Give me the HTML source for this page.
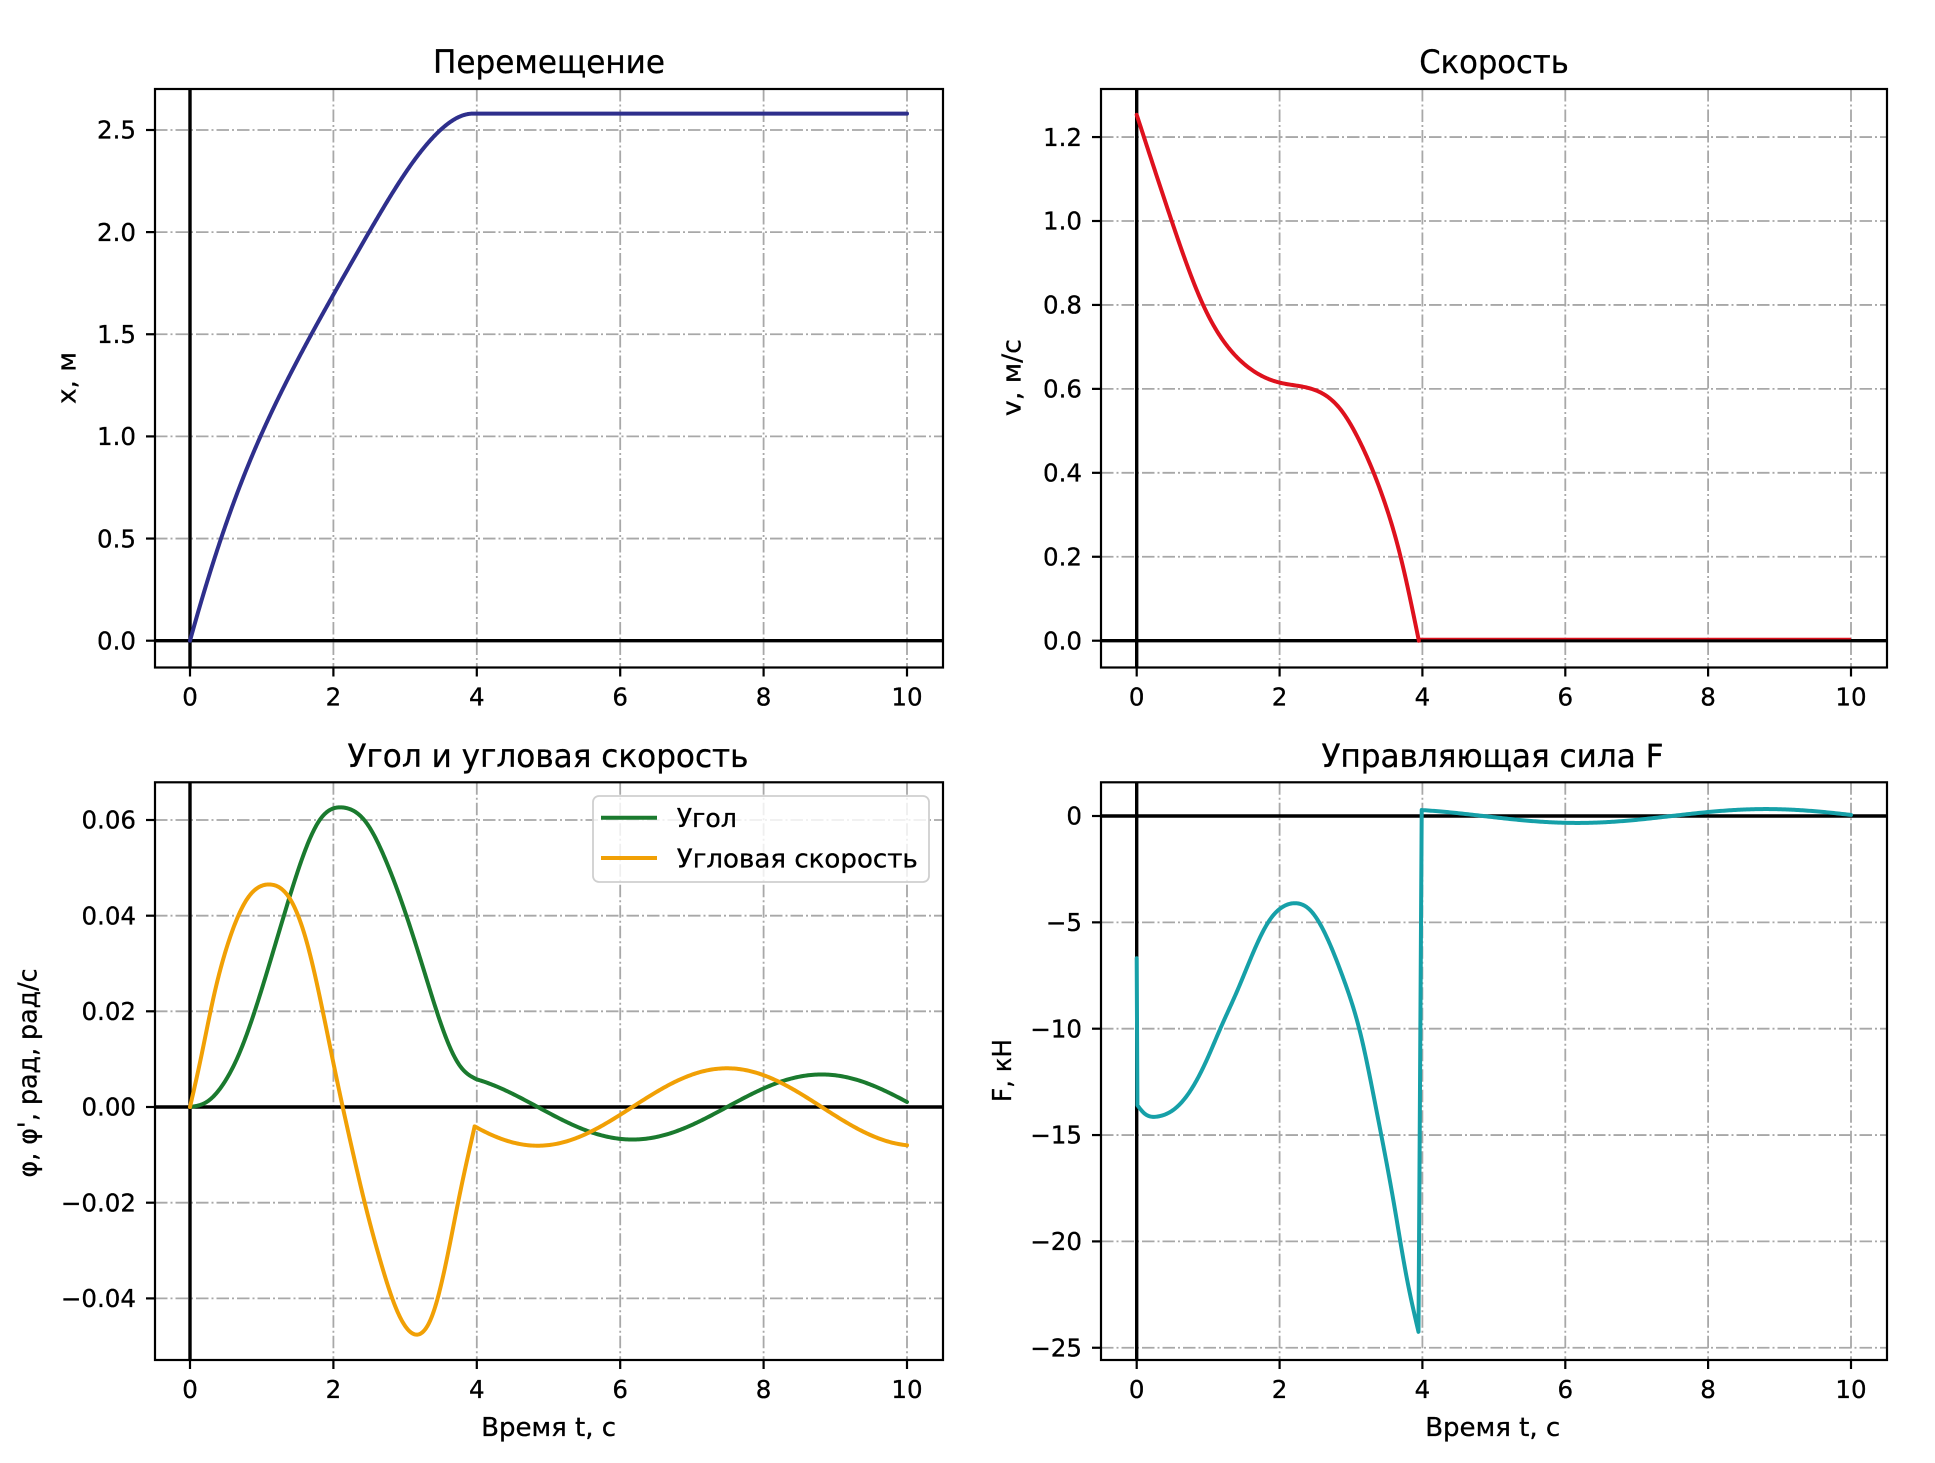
<!DOCTYPE html>
<html><head><meta charset="utf-8"><style>
html,body{margin:0;padding:0;background:#fff;}
svg{display:block;}
text{font-family:"DejaVu Sans","Liberation Sans",sans-serif;fill:#000;stroke:#000;stroke-width:0.3;}
.g{stroke:#a8a8a8;stroke-width:1.8;stroke-dasharray:12.5 3 2 3;fill:none;}
.z{stroke:#000;stroke-width:3.4;}
.tk{stroke:#000;stroke-width:2.2;}
.sp{fill:none;stroke:#000;stroke-width:2.2;}
.d{fill:none;stroke-width:4;stroke-linejoin:round;stroke-linecap:round;}
.tl{font-size:24.5px;}
.yl{font-size:26px;}
.tt{font-size:32px;}
</style></head><body>
<svg width="1935" height="1463" viewBox="0 0 1935 1463" xmlns="http://www.w3.org/2000/svg">
<rect width="1935" height="1463" fill="#fff"/>

<g class="g">
<line x1="190" y1="89" x2="190" y2="667.5"/><line x1="333.4" y1="89" x2="333.4" y2="667.5"/><line x1="476.8" y1="89" x2="476.8" y2="667.5"/><line x1="620.2" y1="89" x2="620.2" y2="667.5"/><line x1="763.6" y1="89" x2="763.6" y2="667.5"/><line x1="907" y1="89" x2="907" y2="667.5"/>
<line x1="155" y1="130" x2="943" y2="130"/><line x1="155" y1="232.1" x2="943" y2="232.1"/><line x1="155" y1="334.25" x2="943" y2="334.25"/><line x1="155" y1="436.4" x2="943" y2="436.4"/><line x1="155" y1="538.55" x2="943" y2="538.55"/>
<line x1="1136.7" y1="89" x2="1136.7" y2="667.5"/><line x1="1279.6" y1="89" x2="1279.6" y2="667.5"/><line x1="1422.4" y1="89" x2="1422.4" y2="667.5"/><line x1="1565.3" y1="89" x2="1565.3" y2="667.5"/><line x1="1708.1" y1="89" x2="1708.1" y2="667.5"/><line x1="1851" y1="89" x2="1851" y2="667.5"/>
<line x1="1101" y1="137.06" x2="1887" y2="137.06"/><line x1="1101" y1="221" x2="1887" y2="221"/><line x1="1101" y1="304.94" x2="1887" y2="304.94"/><line x1="1101" y1="388.88" x2="1887" y2="388.88"/><line x1="1101" y1="472.82" x2="1887" y2="472.82"/><line x1="1101" y1="556.76" x2="1887" y2="556.76"/>
<line x1="190" y1="782.3" x2="190" y2="1360"/><line x1="333.4" y1="782.3" x2="333.4" y2="1360"/><line x1="476.8" y1="782.3" x2="476.8" y2="1360"/><line x1="620.2" y1="782.3" x2="620.2" y2="1360"/><line x1="763.6" y1="782.3" x2="763.6" y2="1360"/><line x1="907" y1="782.3" x2="907" y2="1360"/>
<line x1="155" y1="820" x2="943" y2="820"/><line x1="155" y1="915.7" x2="943" y2="915.7"/><line x1="155" y1="1011.3" x2="943" y2="1011.3"/><line x1="155" y1="1202.7" x2="943" y2="1202.7"/><line x1="155" y1="1298.4" x2="943" y2="1298.4"/>
<line x1="1136.7" y1="782.3" x2="1136.7" y2="1360"/><line x1="1279.6" y1="782.3" x2="1279.6" y2="1360"/><line x1="1422.4" y1="782.3" x2="1422.4" y2="1360"/><line x1="1565.3" y1="782.3" x2="1565.3" y2="1360"/><line x1="1708.1" y1="782.3" x2="1708.1" y2="1360"/><line x1="1851" y1="782.3" x2="1851" y2="1360"/>
<line x1="1101" y1="922.35" x2="1887" y2="922.35"/><line x1="1101" y1="1028.7" x2="1887" y2="1028.7"/><line x1="1101" y1="1135.05" x2="1887" y2="1135.05"/><line x1="1101" y1="1241.4" x2="1887" y2="1241.4"/><line x1="1101" y1="1347.75" x2="1887" y2="1347.75"/>
</g>

<g class="z">
<line x1="155" y1="640.7" x2="943" y2="640.7"/><line x1="190" y1="89" x2="190" y2="667.5"/>
<line x1="1101" y1="640.7" x2="1887" y2="640.7"/><line x1="1136.7" y1="89" x2="1136.7" y2="667.5"/>
<line x1="155" y1="1107" x2="943" y2="1107"/><line x1="190" y1="782.3" x2="190" y2="1360"/>
<line x1="1101" y1="816" x2="1887" y2="816"/><line x1="1136.7" y1="782.3" x2="1136.7" y2="1360"/>
</g>

<g transform="matrix(71.7,0,0,-204.3,190,640.7)">
<path id="pX" class="d" vector-effect="non-scaling-stroke" stroke="#2e2f8c" d="M0,0 L0.478,0.542 L0.826,0.870 L1,1.016 L1.348,1.279 L1.696,1.515 L2,1.708 L2.39,1.946 L2.65,2.1 L3,2.293 L3.26,2.414 L3.52,2.508 L3.7,2.553 L3.95,2.58 L10,2.58"/>
</g>
<line x1="1418.8" y1="638.6" x2="1851" y2="638.6" stroke="#de111d" stroke-width="1.6"/>
<g transform="matrix(71.43,0,0,-419.7,1136.7,640.7)">
<path id="pV" class="d" vector-effect="non-scaling-stroke" stroke="#de111d" d="M0,1.253 L0.49,1.0 L0.93,0.8 L1.5,0.66 L2,0.615 L2.5,0.597 L2.85,0.552 L3.15,0.465 L3.45,0.34 L3.7,0.196 L3.95,0"/>
</g>
<g transform="matrix(71.7,0,0,-4785,190,1107)">
<path id="pG" class="d" vector-effect="non-scaling-stroke" stroke="#1a7a2e" d="M0,0 L0.232,0.00105 L0.464,0.0048 L0.696,0.0115 L0.88,0.019 L1.114,0.0302 L1.346,0.0414 L1.578,0.0525 L1.81,0.0603 L2.13,0.0626 L2.46,0.0594 L2.74,0.0512 L3.02,0.0399 L3.29,0.0272 L3.57,0.0145 L3.76,0.0085 L3.9,0.0063 L4,0.00577 L4.5,0.00275 L5,-0.00121 L5.5,-0.00475 L6,-0.00666 L6.5,-0.00628 L7,-0.00374 L7.5,0.00008 L8,0.00388 L8.5,0.00634 L9,0.00662 L9.5,0.0046 L10,0.00105"/>
<path id="pO" class="d" vector-effect="non-scaling-stroke" stroke="#f1a005" d="M0,0 L0.139,0.0093 L0.325,0.0227 L0.557,0.0354 L0.789,0.0433 L1.114,0.0465 L1.39,0.0436 L1.624,0.0347 L1.856,0.0197 L2.04,0.0063 L2.13,0 L2.27,-0.0094 L2.46,-0.0214 L2.65,-0.0319 L2.88,-0.0423 L3.13,-0.0475 L3.39,-0.0431 L3.57,-0.0326 L3.76,-0.0184 L3.9,-0.0087 L3.97,-0.00405 L4.5,-0.0074 L5,-0.00796 L5.5,-0.00579 L6,-0.00163 L6.5,0.0031 L7,0.00676 L7.5,0.00809 L8,0.00664 L8.5,0.00291 L9,-0.00184 L9.5,-0.00596 L10,-0.00799"/>
</g>
<g transform="matrix(71.43,0,0,-21.27,1136.7,816)">
<path id="pF" class="d" vector-effect="non-scaling-stroke" stroke="#16a0a8" d="M0,-6.69 L0.01,-13.6 L0.1,-13.96 L0.29,-14.13 L0.52,-13.8 L0.755,-12.9 L0.99,-11.4 L1.17,-10 L1.41,-8.2 L1.64,-6.35 L1.87,-4.85 L2.01,-4.35 L2.22,-4.1 L2.43,-4.43 L2.66,-5.69 L2.9,-7.7 L3.13,-10.2 L3.36,-13.9 L3.6,-18.2 L3.78,-21.7 L3.945,-24.25 L3.99,0.28 L4,0.277 L4.5,0.132 L5,-0.058 L5.5,-0.228 L6,-0.32 L6.5,-0.301 L7,-0.18 L7.5,0.004 L8,0.186 L8.5,0.304 L9,0.318 L9.5,0.221 L10,0.05"/>
</g>

<rect x="593" y="796" width="336" height="86" rx="6" ry="6" fill="#fff" fill-opacity="0.82" stroke="#cfcfcf" stroke-width="1.8"/>
<line x1="601" y1="817.7" x2="657" y2="817.7" stroke="#1a7a2e" stroke-width="4"/>
<line x1="601" y1="858" x2="657" y2="858" stroke="#f1a005" stroke-width="4"/>
<text x="676.8" y="827" font-size="25.5" textLength="60" lengthAdjust="spacingAndGlyphs">Угол</text>
<text x="676.8" y="867.3" font-size="25.5" textLength="241" lengthAdjust="spacingAndGlyphs">Угловая скорость</text>

<rect class="sp" x="155" y="89" width="788" height="578.5"/>
<rect class="sp" x="1101" y="89" width="786" height="578.5"/>
<rect class="sp" x="155" y="782.3" width="788" height="577.7"/>
<rect class="sp" x="1101" y="782.3" width="786" height="577.7"/>

<g class="tk">
<line x1="146" y1="640.7" x2="155" y2="640.7"/><line x1="146" y1="538.55" x2="155" y2="538.55"/><line x1="146" y1="436.4" x2="155" y2="436.4"/><line x1="146" y1="334.25" x2="155" y2="334.25"/><line x1="146" y1="232.1" x2="155" y2="232.1"/><line x1="146" y1="130" x2="155" y2="130"/>
<line x1="190" y1="667.5" x2="190" y2="676.5"/><line x1="333.4" y1="667.5" x2="333.4" y2="676.5"/><line x1="476.8" y1="667.5" x2="476.8" y2="676.5"/><line x1="620.2" y1="667.5" x2="620.2" y2="676.5"/><line x1="763.6" y1="667.5" x2="763.6" y2="676.5"/><line x1="907" y1="667.5" x2="907" y2="676.5"/>
<line x1="1092" y1="640.7" x2="1101" y2="640.7"/><line x1="1092" y1="556.76" x2="1101" y2="556.76"/><line x1="1092" y1="472.82" x2="1101" y2="472.82"/><line x1="1092" y1="388.88" x2="1101" y2="388.88"/><line x1="1092" y1="304.94" x2="1101" y2="304.94"/><line x1="1092" y1="221" x2="1101" y2="221"/><line x1="1092" y1="137.06" x2="1101" y2="137.06"/>
<line x1="1136.7" y1="667.5" x2="1136.7" y2="676.5"/><line x1="1279.6" y1="667.5" x2="1279.6" y2="676.5"/><line x1="1422.4" y1="667.5" x2="1422.4" y2="676.5"/><line x1="1565.3" y1="667.5" x2="1565.3" y2="676.5"/><line x1="1708.1" y1="667.5" x2="1708.1" y2="676.5"/><line x1="1851" y1="667.5" x2="1851" y2="676.5"/>
<line x1="146" y1="820" x2="155" y2="820"/><line x1="146" y1="915.7" x2="155" y2="915.7"/><line x1="146" y1="1011.3" x2="155" y2="1011.3"/><line x1="146" y1="1107" x2="155" y2="1107"/><line x1="146" y1="1202.7" x2="155" y2="1202.7"/><line x1="146" y1="1298.4" x2="155" y2="1298.4"/>
<line x1="190" y1="1360" x2="190" y2="1369"/><line x1="333.4" y1="1360" x2="333.4" y2="1369"/><line x1="476.8" y1="1360" x2="476.8" y2="1369"/><line x1="620.2" y1="1360" x2="620.2" y2="1369"/><line x1="763.6" y1="1360" x2="763.6" y2="1369"/><line x1="907" y1="1360" x2="907" y2="1369"/>
<line x1="1092" y1="816" x2="1101" y2="816"/><line x1="1092" y1="922.35" x2="1101" y2="922.35"/><line x1="1092" y1="1028.7" x2="1101" y2="1028.7"/><line x1="1092" y1="1135.05" x2="1101" y2="1135.05"/><line x1="1092" y1="1241.4" x2="1101" y2="1241.4"/><line x1="1092" y1="1347.75" x2="1101" y2="1347.75"/>
<line x1="1136.7" y1="1360" x2="1136.7" y2="1369"/><line x1="1279.6" y1="1360" x2="1279.6" y2="1369"/><line x1="1422.4" y1="1360" x2="1422.4" y2="1369"/><line x1="1565.3" y1="1360" x2="1565.3" y2="1369"/><line x1="1708.1" y1="1360" x2="1708.1" y2="1369"/><line x1="1851" y1="1360" x2="1851" y2="1369"/>
</g>

<g class="tl" text-anchor="end">
<text x="136" y="649.4">0.0</text><text x="136" y="547.3">0.5</text><text x="136" y="445.1">1.0</text><text x="136" y="343">1.5</text><text x="136" y="240.8">2.0</text><text x="136" y="138.7">2.5</text>
<text x="1082" y="649.4">0.0</text><text x="1082" y="565.5">0.2</text><text x="1082" y="481.5">0.4</text><text x="1082" y="397.6">0.6</text><text x="1082" y="313.6">0.8</text><text x="1082" y="229.7">1.0</text><text x="1082" y="145.8">1.2</text>
<text x="136" y="828.7">0.06</text><text x="136" y="924.4">0.04</text><text x="136" y="1020">0.02</text><text x="136" y="1115.7">0.00</text><text x="136" y="1211.4">−0.02</text><text x="136" y="1307.1">−0.04</text>
<text x="1082" y="824.7">0</text><text x="1082" y="931">−5</text><text x="1082" y="1037.4">−10</text><text x="1082" y="1143.7">−15</text><text x="1082" y="1250.1">−20</text><text x="1082" y="1356.4">−25</text>
</g>
<g class="tl" text-anchor="middle">
<text x="190" y="705.5">0</text><text x="333.4" y="705.5">2</text><text x="476.8" y="705.5">4</text><text x="620.2" y="705.5">6</text><text x="763.6" y="705.5">8</text><text x="907" y="705.5">10</text>
<text x="1136.7" y="705.5">0</text><text x="1279.6" y="705.5">2</text><text x="1422.4" y="705.5">4</text><text x="1565.3" y="705.5">6</text><text x="1708.1" y="705.5">8</text><text x="1851" y="705.5">10</text>
<text x="190" y="1398">0</text><text x="333.4" y="1398">2</text><text x="476.8" y="1398">4</text><text x="620.2" y="1398">6</text><text x="763.6" y="1398">8</text><text x="907" y="1398">10</text>
<text x="1136.7" y="1398">0</text><text x="1279.6" y="1398">2</text><text x="1422.4" y="1398">4</text><text x="1565.3" y="1398">6</text><text x="1708.1" y="1398">8</text><text x="1851" y="1398">10</text>
</g>

<g class="tt" text-anchor="middle">
<text x="549" y="73" textLength="232" lengthAdjust="spacingAndGlyphs">Перемещение</text>
<text x="1494" y="73" textLength="149.5" lengthAdjust="spacingAndGlyphs">Скорость</text>
<text x="548" y="767" textLength="401" lengthAdjust="spacingAndGlyphs">Угол и угловая скорость</text>
<text x="1492.5" y="767" textLength="342" lengthAdjust="spacingAndGlyphs">Управляющая сила F</text>
</g>

<g class="yl" text-anchor="middle">
<text transform="translate(75.5,378) rotate(-90)" textLength="52" lengthAdjust="spacingAndGlyphs">x, м</text>
<text transform="translate(1020.5,377.6) rotate(-90)" textLength="77" lengthAdjust="spacingAndGlyphs">v, м/с</text>
<text transform="translate(36.5,1073) rotate(-90)" textLength="209" lengthAdjust="spacingAndGlyphs">φ, φ', рад, рад/с</text>
<text transform="translate(1011,1070.5) rotate(-90)" textLength="63" lengthAdjust="spacingAndGlyphs">F, кН</text>
<text x="548.6" y="1436" textLength="135" lengthAdjust="spacingAndGlyphs">Время t, с</text>
<text x="1492.7" y="1436" textLength="135" lengthAdjust="spacingAndGlyphs">Время t, с</text>
</g>
</svg>
<script>
(function(){
function spline(P){
  var n=P.length,x=[],y=[],h=[],i;
  for(i=0;i<n;i++){x.push(P[i][0]);y.push(P[i][1]);}
  for(i=0;i<n-1;i++)h[i]=x[i+1]-x[i];
  var M=[];for(i=0;i<n;i++)M.push(0);
  var N=n-2,A=[],B=[],C=[],R=[];
  for(i=1;i<n-1;i++){A.push(h[i-1]);B.push(2*(h[i-1]+h[i]));C.push(h[i]);R.push(6*((y[i+1]-y[i])/h[i]-(y[i]-y[i-1])/h[i-1]));}
  for(i=1;i<N;i++){var w=A[i]/B[i-1];B[i]-=w*C[i-1];R[i]-=w*R[i-1];}
  var S=[];S[N-1]=R[N-1]/B[N-1];
  for(i=N-2;i>=0;i--)S[i]=(R[i]-C[i]*S[i+1])/B[i];
  for(i=0;i<N;i++)M[i+1]=S[i];
  return function(t){
    var i=0;while(i<n-2&&t>x[i+1])i++;
    var hh=h[i],a=(x[i+1]-t)/hh,b=(t-x[i])/hh;
    return a*y[i]+b*y[i+1]+((a*a*a-a)*M[i]+(b*b*b-b)*M[i+1])*hh*hh/6;
  };
}
function samp(f,a,b,n,arr){for(var i=0;i<=n;i++){var t=a+(b-a)*i/n;arr.push([t,f(t)]);}return arr;}
function D(arr){var s='';for(var i=0;i<arr.length;i++){s+=(i?'L':'M')+arr[i][0].toFixed(5)+','+arr[i][1].toFixed(6);}return s;}
var w=1.19;
function gF(t){return -0.0068*Math.sin(w*(t-4.85));}
function oF(t){return -0.0068*w*Math.cos(w*(t-4.85));}

var vP=[[0,1.253],[0.49,1.0],[0.93,0.8],[1.5,0.66],[2.0,0.615],[2.5,0.597],[2.85,0.552],[3.15,0.465],[3.45,0.34],[3.7,0.196],[3.95,0.0]];
var v=spline(vP);
var V=samp(v,0,3.95,400,[]);
document.getElementById('pV').setAttribute('d',D(V));
var X=[[0,0]],acc=0,dt=0.0025,Nn=Math.round(3.95/dt);
for(var i=1;i<=Nn;i++){var t0=(i-1)*dt,t1=i*dt;acc+=v((t0+t1)/2)*dt;if(i%4==0||i==Nn)X.push([t1,acc]);}
var sc=2.58/acc;for(i=0;i<X.length;i++)X[i][1]*=sc;
X.push([10,2.58]);
document.getElementById('pX').setAttribute('d',D(X));

var gP=[[0,0],[0.232,0.00105],[0.464,0.0048],[0.696,0.0115],[0.88,0.019],[1.114,0.0302],[1.346,0.0418],[1.578,0.0525],[1.81,0.0600],[2.13,0.0626],[2.46,0.0594],[2.74,0.0512],[3.02,0.0399],[3.29,0.0272],[3.57,0.0145],[3.76,0.0087],[3.9,0.0066],[4.0,0.00577]];
var G=samp(spline(gP),0,4,400,[]);samp(gF,4,10,300,G);
document.getElementById('pG').setAttribute('d',D(G));

var oP=[[0,0],[0.139,0.0093],[0.325,0.0227],[0.557,0.0354],[0.789,0.0433],[1.114,0.0465],[1.39,0.0436],[1.624,0.0347],[1.856,0.0197],[2.04,0.0063],[2.13,0],[2.27,-0.0094],[2.46,-0.0214],[2.65,-0.0319],[2.88,-0.0423],[3.13,-0.0475],[3.39,-0.0431],[3.57,-0.0326],[3.76,-0.0184],[3.9,-0.0087],[3.97,-0.00405]];
var O=samp(spline(oP),0,3.97,400,[]);samp(oF,3.97,10,300,O);
document.getElementById('pO').setAttribute('d',D(O));

var fP=[[0.01,-13.6],[0.1,-13.96],[0.29,-14.13],[0.52,-13.8],[0.755,-12.9],[0.99,-11.4],[1.17,-10.0],[1.41,-8.2],[1.64,-6.35],[1.87,-4.85],[2.01,-4.35],[2.22,-4.1],[2.43,-4.43],[2.66,-5.69],[2.9,-7.7],[3.13,-10.2],[3.36,-13.9],[3.6,-18.2],[3.78,-21.7],[3.945,-24.25]];
var F=[[0,-6.69]];samp(spline(fP),0.01,3.945,400,F);F.push([3.99,0.28]);
samp(function(t){return 48*gF(t);},4,10,300,F);
document.getElementById('pF').setAttribute('d',D(F));
})();
</script>
</body></html>
